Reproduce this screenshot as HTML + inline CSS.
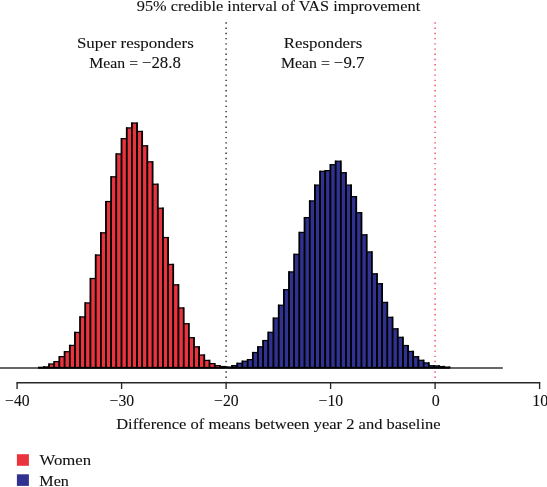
<!DOCTYPE html>
<html><head><meta charset="utf-8"><title>Figure</title>
<style>html,body{margin:0;padding:0;background:#fff}svg{display:block}text{font-family:"Liberation Serif",serif;font-size:15px;fill:#111;stroke:#111;stroke-width:0.1px}</style></head><body>
<svg width="547" height="487" viewBox="0 0 547 487">
<rect width="547" height="487" fill="#fff"/>
<line x1="226.1" y1="22.35" x2="226.1" y2="383" stroke="#262626" stroke-width="1.4" stroke-dasharray="1.4 3.808"/>
<line x1="435.1" y1="22.35" x2="435.1" y2="383" stroke="#f0475a" stroke-width="1.4" stroke-dasharray="1.4 3.808"/>
<line x1="0" y1="368.0" x2="502.8" y2="368.0" stroke="#333" stroke-width="1.5"/>
<g fill="#e9333d" stroke="#000" stroke-width="1.25"><rect x="38.68" y="367.32" width="5.177" height="0.20"/><rect x="43.85" y="366.92" width="5.177" height="0.58"/><rect x="49.03" y="364.02" width="5.177" height="3.48"/><rect x="54.21" y="361.62" width="5.177" height="5.88"/><rect x="59.39" y="356.62" width="5.177" height="10.88"/><rect x="64.56" y="351.72" width="5.177" height="15.78"/><rect x="69.74" y="345.42" width="5.177" height="22.08"/><rect x="74.92" y="332.42" width="5.177" height="35.08"/><rect x="80.09" y="316.93" width="5.177" height="50.57"/><rect x="85.27" y="302.93" width="5.177" height="64.57"/><rect x="90.45" y="278.52" width="5.177" height="88.98"/><rect x="95.62" y="255.03" width="5.177" height="112.47"/><rect x="100.80" y="232.82" width="5.177" height="134.68"/><rect x="105.98" y="201.53" width="5.177" height="165.97"/><rect x="111.16" y="176.82" width="5.177" height="190.68"/><rect x="116.33" y="153.92" width="5.177" height="213.58"/><rect x="121.51" y="138.62" width="5.177" height="228.88"/><rect x="126.69" y="127.92" width="5.177" height="239.57"/><rect x="131.86" y="123.03" width="5.177" height="244.47"/><rect x="137.04" y="131.43" width="5.177" height="236.07"/><rect x="142.22" y="145.83" width="5.177" height="221.67"/><rect x="147.39" y="161.83" width="5.177" height="205.67"/><rect x="152.57" y="184.23" width="5.177" height="183.27"/><rect x="157.75" y="208.23" width="5.177" height="159.27"/><rect x="162.93" y="237.53" width="5.177" height="129.97"/><rect x="168.10" y="264.43" width="5.177" height="103.07"/><rect x="173.28" y="284.83" width="5.177" height="82.67"/><rect x="178.46" y="307.93" width="5.177" height="59.57"/><rect x="183.63" y="323.72" width="5.177" height="43.78"/><rect x="188.81" y="337.72" width="5.177" height="29.78"/><rect x="193.99" y="346.82" width="5.177" height="20.68"/><rect x="199.16" y="355.02" width="5.177" height="12.48"/><rect x="204.34" y="360.42" width="5.177" height="7.08"/><rect x="209.52" y="363.62" width="5.177" height="3.88"/><rect x="214.70" y="365.62" width="5.177" height="1.88"/><rect x="219.87" y="366.52" width="5.177" height="0.98"/></g><g stroke="#000" stroke-width="1.65"><line x1="43.85" y1="366.30" x2="43.85" y2="368.0"/><line x1="49.03" y1="363.40" x2="49.03" y2="368.0"/><line x1="54.21" y1="361.00" x2="54.21" y2="368.0"/><line x1="59.39" y1="356.00" x2="59.39" y2="368.0"/><line x1="64.56" y1="351.10" x2="64.56" y2="368.0"/><line x1="69.74" y1="344.80" x2="69.74" y2="368.0"/><line x1="74.92" y1="331.80" x2="74.92" y2="368.0"/><line x1="80.09" y1="316.30" x2="80.09" y2="368.0"/><line x1="85.27" y1="302.30" x2="85.27" y2="368.0"/><line x1="90.45" y1="277.90" x2="90.45" y2="368.0"/><line x1="95.62" y1="254.40" x2="95.62" y2="368.0"/><line x1="100.80" y1="232.20" x2="100.80" y2="368.0"/><line x1="105.98" y1="200.90" x2="105.98" y2="368.0"/><line x1="111.16" y1="176.20" x2="111.16" y2="368.0"/><line x1="116.33" y1="153.30" x2="116.33" y2="368.0"/><line x1="121.51" y1="138.00" x2="121.51" y2="368.0"/><line x1="126.69" y1="127.30" x2="126.69" y2="368.0"/><line x1="131.86" y1="122.40" x2="131.86" y2="368.0"/><line x1="137.04" y1="122.40" x2="137.04" y2="368.0"/><line x1="142.22" y1="130.80" x2="142.22" y2="368.0"/><line x1="147.39" y1="145.20" x2="147.39" y2="368.0"/><line x1="152.57" y1="161.20" x2="152.57" y2="368.0"/><line x1="157.75" y1="183.60" x2="157.75" y2="368.0"/><line x1="162.93" y1="207.60" x2="162.93" y2="368.0"/><line x1="168.10" y1="236.90" x2="168.10" y2="368.0"/><line x1="173.28" y1="263.80" x2="173.28" y2="368.0"/><line x1="178.46" y1="284.20" x2="178.46" y2="368.0"/><line x1="183.63" y1="307.30" x2="183.63" y2="368.0"/><line x1="188.81" y1="323.10" x2="188.81" y2="368.0"/><line x1="193.99" y1="337.10" x2="193.99" y2="368.0"/><line x1="199.16" y1="346.20" x2="199.16" y2="368.0"/><line x1="204.34" y1="354.40" x2="204.34" y2="368.0"/><line x1="209.52" y1="359.80" x2="209.52" y2="368.0"/><line x1="214.70" y1="363.00" x2="214.70" y2="368.0"/><line x1="219.87" y1="365.00" x2="219.87" y2="368.0"/><line x1="225.05" y1="365.90" x2="225.05" y2="368.0"/></g>
<g fill="#2f3290" stroke="#000" stroke-width="1.25"><rect x="226.88" y="367.02" width="5.177" height="0.48"/><rect x="232.06" y="365.62" width="5.177" height="1.88"/><rect x="237.23" y="363.32" width="5.177" height="4.18"/><rect x="242.41" y="361.22" width="5.177" height="6.28"/><rect x="247.59" y="359.62" width="5.177" height="7.88"/><rect x="252.76" y="352.52" width="5.177" height="14.98"/><rect x="257.94" y="346.82" width="5.177" height="20.68"/><rect x="263.12" y="340.52" width="5.177" height="26.98"/><rect x="268.30" y="332.32" width="5.177" height="35.18"/><rect x="273.47" y="318.12" width="5.177" height="49.38"/><rect x="278.65" y="305.23" width="5.177" height="62.27"/><rect x="283.83" y="289.73" width="5.177" height="77.77"/><rect x="289.00" y="271.93" width="5.177" height="95.57"/><rect x="294.18" y="254.32" width="5.177" height="113.18"/><rect x="299.36" y="232.43" width="5.177" height="135.07"/><rect x="304.53" y="217.62" width="5.177" height="149.88"/><rect x="309.71" y="200.92" width="5.177" height="166.58"/><rect x="314.89" y="185.12" width="5.177" height="182.38"/><rect x="320.07" y="171.32" width="5.177" height="196.18"/><rect x="325.24" y="170.62" width="5.177" height="196.88"/><rect x="330.42" y="164.72" width="5.177" height="202.78"/><rect x="335.60" y="161.22" width="5.177" height="206.28"/><rect x="340.77" y="172.72" width="5.177" height="194.78"/><rect x="345.95" y="185.12" width="5.177" height="182.38"/><rect x="351.13" y="196.62" width="5.177" height="170.88"/><rect x="356.31" y="212.72" width="5.177" height="154.78"/><rect x="361.48" y="234.82" width="5.177" height="132.68"/><rect x="366.66" y="251.93" width="5.177" height="115.57"/><rect x="371.84" y="273.82" width="5.177" height="93.68"/><rect x="377.01" y="283.72" width="5.177" height="83.78"/><rect x="382.19" y="302.43" width="5.177" height="65.07"/><rect x="387.37" y="317.32" width="5.177" height="50.18"/><rect x="392.54" y="328.82" width="5.177" height="38.68"/><rect x="397.72" y="337.32" width="5.177" height="30.18"/><rect x="402.90" y="345.52" width="5.177" height="21.98"/><rect x="408.07" y="351.42" width="5.177" height="16.08"/><rect x="413.25" y="356.72" width="5.177" height="10.78"/><rect x="418.43" y="360.32" width="5.177" height="7.18"/><rect x="423.61" y="362.92" width="5.177" height="4.58"/><rect x="428.78" y="365.72" width="5.177" height="1.78"/><rect x="433.96" y="365.92" width="5.177" height="1.58"/><rect x="439.14" y="366.52" width="5.177" height="0.98"/><rect x="444.31" y="367.12" width="5.177" height="0.38"/></g><g stroke="#000" stroke-width="1.65"><line x1="226.88" y1="366.40" x2="226.88" y2="368.0"/><line x1="232.06" y1="365.00" x2="232.06" y2="368.0"/><line x1="237.23" y1="362.70" x2="237.23" y2="368.0"/><line x1="242.41" y1="360.60" x2="242.41" y2="368.0"/><line x1="247.59" y1="359.00" x2="247.59" y2="368.0"/><line x1="252.76" y1="351.90" x2="252.76" y2="368.0"/><line x1="257.94" y1="346.20" x2="257.94" y2="368.0"/><line x1="263.12" y1="339.90" x2="263.12" y2="368.0"/><line x1="268.30" y1="331.70" x2="268.30" y2="368.0"/><line x1="273.47" y1="317.50" x2="273.47" y2="368.0"/><line x1="278.65" y1="304.60" x2="278.65" y2="368.0"/><line x1="283.83" y1="289.10" x2="283.83" y2="368.0"/><line x1="289.00" y1="271.30" x2="289.00" y2="368.0"/><line x1="294.18" y1="253.70" x2="294.18" y2="368.0"/><line x1="299.36" y1="231.80" x2="299.36" y2="368.0"/><line x1="304.53" y1="217.00" x2="304.53" y2="368.0"/><line x1="309.71" y1="200.30" x2="309.71" y2="368.0"/><line x1="314.89" y1="184.50" x2="314.89" y2="368.0"/><line x1="320.07" y1="170.70" x2="320.07" y2="368.0"/><line x1="325.24" y1="170.00" x2="325.24" y2="368.0"/><line x1="330.42" y1="164.10" x2="330.42" y2="368.0"/><line x1="335.60" y1="160.60" x2="335.60" y2="368.0"/><line x1="340.77" y1="160.60" x2="340.77" y2="368.0"/><line x1="345.95" y1="172.10" x2="345.95" y2="368.0"/><line x1="351.13" y1="184.50" x2="351.13" y2="368.0"/><line x1="356.31" y1="196.00" x2="356.31" y2="368.0"/><line x1="361.48" y1="212.10" x2="361.48" y2="368.0"/><line x1="366.66" y1="234.20" x2="366.66" y2="368.0"/><line x1="371.84" y1="251.30" x2="371.84" y2="368.0"/><line x1="377.01" y1="273.20" x2="377.01" y2="368.0"/><line x1="382.19" y1="283.10" x2="382.19" y2="368.0"/><line x1="387.37" y1="301.80" x2="387.37" y2="368.0"/><line x1="392.54" y1="316.70" x2="392.54" y2="368.0"/><line x1="397.72" y1="328.20" x2="397.72" y2="368.0"/><line x1="402.90" y1="336.70" x2="402.90" y2="368.0"/><line x1="408.07" y1="344.90" x2="408.07" y2="368.0"/><line x1="413.25" y1="350.80" x2="413.25" y2="368.0"/><line x1="418.43" y1="356.10" x2="418.43" y2="368.0"/><line x1="423.61" y1="359.70" x2="423.61" y2="368.0"/><line x1="428.78" y1="362.30" x2="428.78" y2="368.0"/><line x1="433.96" y1="365.10" x2="433.96" y2="368.0"/><line x1="439.14" y1="365.30" x2="439.14" y2="368.0"/><line x1="444.31" y1="365.90" x2="444.31" y2="368.0"/><line x1="449.49" y1="366.50" x2="449.49" y2="368.0"/></g>
<rect x="37.98" y="367.0" width="187.77" height="1.7" fill="#000"/>
<rect x="226.18" y="367.0" width="224.01" height="1.7" fill="#000"/>
<g stroke="#262626" stroke-width="1.35" fill="none"><line x1="16.450000000000003" y1="382.75" x2="540.25" y2="382.75"/>
<line x1="17.10" y1="382.75" x2="17.10" y2="389.0"/>
<line x1="121.60" y1="382.75" x2="121.60" y2="389.0"/>
<line x1="226.10" y1="382.75" x2="226.10" y2="389.0"/>
<line x1="330.60" y1="382.75" x2="330.60" y2="389.0"/>
<line x1="435.10" y1="382.75" x2="435.10" y2="389.0"/>
<line x1="539.60" y1="382.75" x2="539.60" y2="389.0"/>
</g>
<text x="17.4" y="406.1" text-anchor="middle" textLength="24.6" lengthAdjust="spacingAndGlyphs" style="font-size:16px">−40</text>
<text x="121.9" y="406.1" text-anchor="middle" textLength="24.6" lengthAdjust="spacingAndGlyphs" style="font-size:16px">−30</text>
<text x="226.4" y="406.1" text-anchor="middle" textLength="24.6" lengthAdjust="spacingAndGlyphs" style="font-size:16px">−20</text>
<text x="330.9" y="406.1" text-anchor="middle" textLength="24.6" lengthAdjust="spacingAndGlyphs" style="font-size:16px">−10</text>
<text x="435.7" y="406.1" text-anchor="middle" textLength="8" lengthAdjust="spacingAndGlyphs" style="font-size:16px">0</text>
<text x="540.2" y="406.1" text-anchor="middle" textLength="16" lengthAdjust="spacingAndGlyphs" style="font-size:16px">10</text>
<text x="136.8" y="10.6" text-anchor="start" textLength="283.4" lengthAdjust="spacingAndGlyphs">95% credible interval of VAS improvement</text>
<text x="76.9" y="48.3" text-anchor="start" textLength="116.9" lengthAdjust="spacingAndGlyphs">Super responders</text>
<text x="89.3" y="68.3" text-anchor="start" textLength="91.6" lengthAdjust="spacingAndGlyphs">Mean = <tspan style="font-size:16px">−28.8</tspan></text>
<text x="283.8" y="48.3" text-anchor="start" textLength="78.4" lengthAdjust="spacingAndGlyphs">Responders</text>
<text x="281.0" y="68.3" text-anchor="start" textLength="83.5" lengthAdjust="spacingAndGlyphs">Mean = <tspan style="font-size:16px">−9.7</tspan></text>
<text x="116.2" y="429.3" text-anchor="start" textLength="324.4" lengthAdjust="spacingAndGlyphs">Difference of means between year 2 and baseline</text>
<rect x="16.9" y="454.2" width="12" height="11.6" fill="#e9333d"/>
<rect x="16.9" y="474.3" width="12" height="11.6" fill="#2f3290"/>
<text x="39.5" y="464.6" text-anchor="start" textLength="51.6" lengthAdjust="spacingAndGlyphs">Women</text>
<text x="39.3" y="485.6" text-anchor="start" textLength="29.6" lengthAdjust="spacingAndGlyphs">Men</text>
</svg></body></html>
